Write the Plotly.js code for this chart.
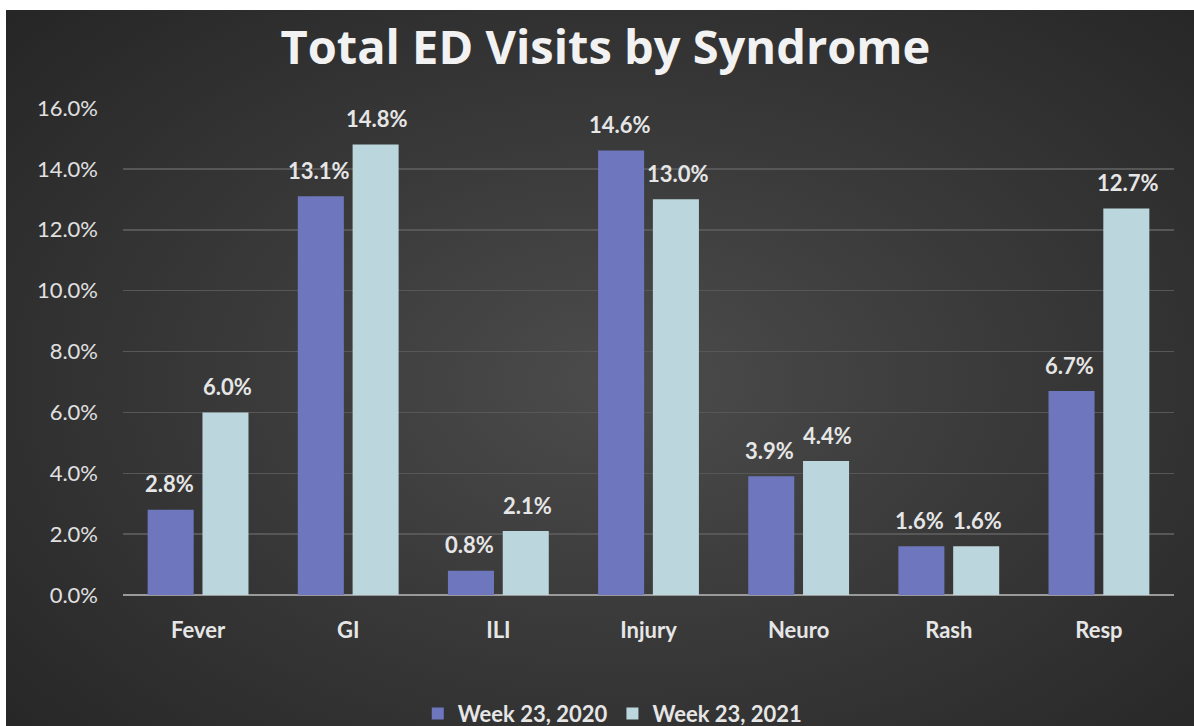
<!DOCTYPE html>
<html>
<head>
<meta charset="utf-8">
<script src="https://cdn.plot.ly/plotly-3.0.1.min.js"></script>
<style>
  html, body { margin: 0; padding: 0; background: #ffffff; }
  #bg {
    position: absolute; left: 6px; top: 10px; width: 1188px; height: 716px;
    background: radial-gradient(ellipse 70% 75% at 52% 52%, #4c4c4c 0%, #3a3a3a 45%, #262626 100%);
  }
  #chart { position: absolute; left: 0; top: 0; width: 1194px; height: 726px; }
</style>
</head>
<body>
<div id="bg"></div>
<div id="chart"></div>
<script>
const categories = ["Fever", "GI", "ILI", "Injury", "Neuro", "Rash", "Resp"];
const week2020 = [2.8, 13.1, 0.8, 14.6, 3.9, 1.6, 6.7];
const week2021 = [6.0, 14.8, 2.1, 13.0, 4.4, 1.6, 12.7];
const seriesNames = ["Week 23, 2020", "Week 23, 2021"];
const yTickVals = [0, 2, 4, 6, 8, 10, 12, 14, 16];
const yTickText = ["0.0%", "2.0%", "4.0%", "6.0%", "8.0%", "10.0%", "12.0%", "14.0%", "16.0%"];

const col2020 = "#6e77bd";
const col2021 = "#bcd6dd";
const fontFam = "Lato, 'Open Sans', sans-serif";

const traces = [
  { type: "bar", name: seriesNames[0], x: categories, y: week2020,
    marker: { color: col2020 }, hoverinfo: "skip" },
  { type: "bar", name: seriesNames[1], x: categories, y: week2021,
    marker: { color: col2021 }, hoverinfo: "skip" }
];

const annotations = [];
[week2020, week2021].forEach((vals, si) => {
  vals.forEach((v, i) => {
    annotations.push({
      x: categories[i], y: v, xref: "x", yref: "y",
      text: v.toFixed(1) + "%", showarrow: false,
      xshift: si === 0 ? -29 : 29, yshift: 26, yanchor: "middle",
      font: { family: fontFam, size: 22, color: "#e6e6e6", weight: 700 }
    });
  });
});

const layout = {
  width: 1194, height: 726,
  paper_bgcolor: "rgba(0,0,0,0)", plot_bgcolor: "rgba(0,0,0,0)",
  margin: { l: 123, r: 20, t: 108, b: 131, autoexpand: false },
  title: {
    text: "Total ED Visits by Syndrome",
    x: 0.507, xanchor: "center", y: 0.935, yanchor: "middle",
    font: { family: "'Open Sans', Lato, sans-serif", size: 47, color: "#f2f2f2", weight: 700 }
  },
  barmode: "group", bargap: 0.27, bargroupgap: 0.16,
  showlegend: true,
  legend: {
    orientation: "h", x: 0.466, xanchor: "center",
    yref: "container", y: 0.017, yanchor: "middle",
    font: { family: fontFam, size: 22, color: "#e6e6e6", weight: 700 },
    itemwidth: 30, traceorder: "normal"
  },
  xaxis: {
    type: "category", showgrid: false, zeroline: false, automargin: false,
    showline: false, ticks: "", ticklabelstandoff: 20,
    tickfont: { family: fontFam, size: 22, color: "#e6e6e6", weight: 700 }
  },
  yaxis: {
    range: [0, 16], tickvals: yTickVals, ticktext: yTickText, automargin: false,
    showgrid: true, gridcolor: "#575757", gridwidth: 1.5,
    zeroline: true, zerolinecolor: "#9a9a9a", zerolinewidth: 2,
    showline: false, ticks: "", ticklabelstandoff: 24,
    tickfont: { family: fontFam, size: 22, color: "#e0e0e0" }
  },
  annotations: annotations
};

Plotly.newPlot("chart", traces, layout, { displayModeBar: false, staticPlot: true });
</script>
</body>
</html>
